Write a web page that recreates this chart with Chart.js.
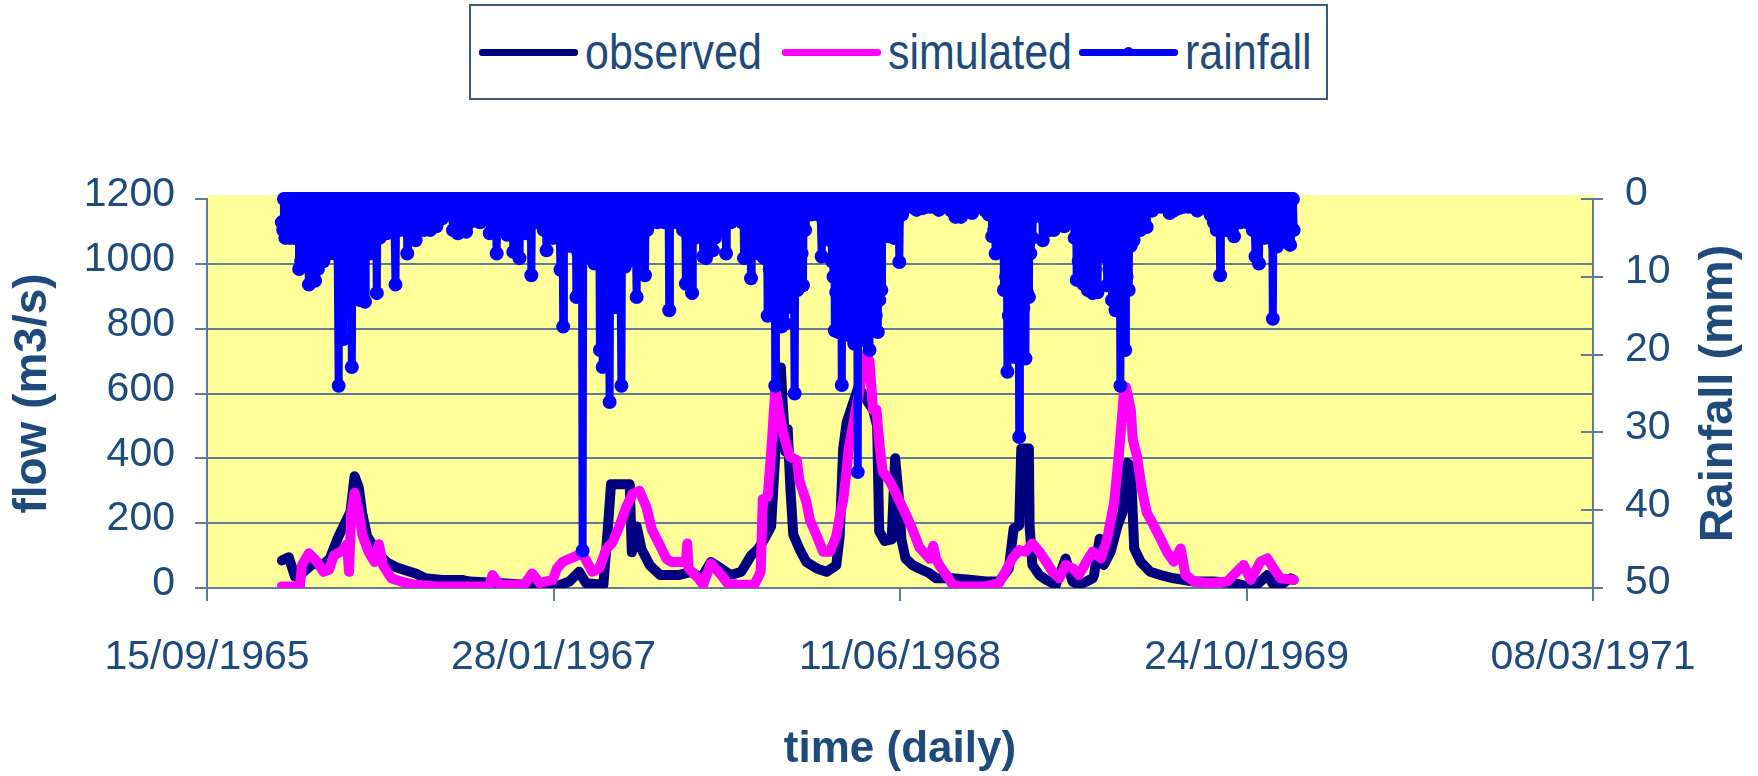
<!DOCTYPE html>
<html>
<head>
<meta charset="utf-8">
<title>Observed and simulated flow with daily rainfall</title>
<script src="https://cdn.jsdelivr.net/npm/chart.js@4.4.1/dist/chart.umd.min.js"></script>
<style>
  html, body { margin: 0; padding: 0; background: #fff; }
  #wrap { position: relative; width: 1758px; height: 776px; }
  #chart { position: absolute; left: 0; top: 0; }
  #legend {
    position: absolute; left: 469px; top: 4px; width: 855px; height: 92px;
    border: 2px solid #3c5a7a; background: #fff;
    font-family: "Liberation Sans Narrow", "Arial Narrow", sans-serif;
    font-size: 51px; color: #1f4a7c;
  }
  #legend .item { position: absolute; top: 0; height: 92px; display: flex; align-items: center; white-space: nowrap; }
  #legend .swatch { position: relative; width: 99px; height: 7px; border-radius: 3px; margin-right: 7px; }
  #legend .dot { position: absolute; left: 45px; top: -2px; width: 9px; height: 9px; border-radius: 50%; }
  #legend .tall { display: inline-block; transform: scaleY(1.18); transform-origin: 50% 55%; }
</style>
</head>
<body>
<div id="wrap">
  <canvas id="chart" width="1758" height="776"></canvas>
  <div id="legend"></div>
</div>
<script>
// ---- data ----
const xTickLabels = ['15/09/1965', '28/01/1967', '11/06/1968', '24/10/1969', '08/03/1971'];
const flowTicks = [0, 200, 400, 600, 800, 1000, 1200];
const rainTicks = [0, 10, 20, 30, 40, 50];

const recordStart = '1966-01-01';
const recordEnd = '1969-12-31';

const obsDates = [
  '1966-01-01','1966-01-11','1966-01-20','1966-01-27','1966-02-15','1966-02-28','1966-03-11','1966-03-24',
  '1966-04-10','1966-04-16','1966-04-22','1966-04-27','1966-05-04','1966-05-14','1966-05-23','1966-06-01',
  '1966-06-14','1966-06-28','1966-07-13','1966-07-27','1966-08-20','1966-09-18','1966-09-29','1966-11-16',
  '1967-01-03','1967-02-01','1967-02-20','1967-03-06','1967-03-16','1967-04-10','1967-04-17','1967-04-21',
  '1967-05-18','1967-05-21','1967-05-28','1967-06-04','1967-06-16','1967-07-01','1967-07-27','1967-08-15',
  '1967-08-29','1967-09-12','1967-09-27','1967-10-11','1967-10-26','1967-11-09','1967-11-19','1967-11-28',
  '1967-12-08','1967-12-15','1967-12-22','1967-12-25','1967-12-29','1968-01-01','1968-01-05','1968-01-09',
  '1968-01-18','1968-01-28','1968-02-12','1968-02-26','1968-03-11','1968-03-16','1968-03-21','1968-03-26',
  '1968-04-12','1968-05-03','1968-05-09','1968-05-12','1968-05-20','1968-05-30','1968-06-04','1968-06-10',
  '1968-06-13','1968-06-19','1968-06-29','1968-07-08','1968-07-23','1968-08-02','1968-08-26','1968-09-23',
  '1968-10-13','1968-11-01','1968-11-15','1968-11-22','1968-11-30','1968-12-03','1968-12-14','1968-12-15',
  '1968-12-19','1968-12-29','1969-01-08','1969-01-22','1969-02-05','1969-02-15','1969-02-24','1969-03-07',
  '1969-03-16','1969-03-18','1969-03-26','1969-04-01','1969-04-11','1969-04-21','1969-04-28','1969-05-05',
  '1969-05-10','1969-05-15','1969-05-24','1969-06-07','1969-06-22','1969-07-11','1969-08-09','1969-09-07',
  '1969-10-06','1969-10-26','1969-11-08','1969-11-23','1969-12-02','1969-12-12','1969-12-27','1969-12-31'
];
const obsFlow = [
  85, 95, 35, 40, 75, 70, 90, 160,
  235, 345, 310, 230, 160, 125, 100, 80,
  65, 55, 45, 30, 25, 25, 20, 15,
  8, 5, 20, 50, 15, 10, 200, 320,
  320, 110, 190, 120, 70, 40, 40, 50,
  30, 80, 60, 40, 50, 100, 120, 150,
  190, 450, 680, 560, 420, 490, 300, 165,
  120, 80, 60, 50, 70, 160, 430, 510,
  620, 550, 500, 175, 145, 150, 400, 264,
  150, 91, 71, 61, 46, 30, 30, 25,
  20, 20, 60, 183, 193, 430, 430, 190,
  71, 40, 25, 10, 91, 20, 10, 20,
  30, 40, 152, 71, 112, 193, 233, 386,
  376, 122, 81, 50, 40, 30, 20, 20,
  15, 5, 10, 40, 10, 10, 30, 25
];

const simDates = [
  '1966-01-01','1966-01-27','1966-01-30','1966-02-09','1966-02-21','1966-03-02','1966-03-10','1966-03-17',
  '1966-03-29','1966-04-05','1966-04-08','1966-04-11','1966-04-16','1966-04-22','1966-04-27','1966-05-06',
  '1966-05-15','1966-05-21','1966-05-27','1966-06-08','1966-06-22','1966-07-13','1966-08-11','1966-10-27',
  '1966-11-01','1966-11-11','1966-12-17','1966-12-28','1967-01-08','1967-01-27','1967-02-02','1967-02-10',
  '1967-02-20','1967-03-03','1967-03-11','1967-03-25','1967-04-04','1967-04-14','1967-04-23','1967-05-03',
  '1967-05-13','1967-05-22','1967-06-01','1967-06-11','1967-06-19','1967-07-01','1967-07-10','1967-07-18',
  '1967-08-07','1967-08-09','1967-08-11','1967-08-25','1967-09-01','1967-09-12','1967-09-27','1967-10-06',
  '1967-10-21','1967-11-14','1967-11-23','1967-11-26','1967-12-03','1967-12-08','1967-12-14','1967-12-17',
  '1967-12-20','1967-12-25','1968-01-04','1968-01-14','1968-01-18','1968-01-28','1968-02-02','1968-02-12',
  '1968-02-21','1968-03-02','1968-03-11','1968-03-16','1968-03-21','1968-03-26','1968-03-29','1968-04-23',
  '1968-04-28','1968-05-03','1968-05-08','1968-05-13','1968-05-17','1968-05-27','1968-06-01','1968-06-11',
  '1968-06-20','1968-06-30','1968-07-09','1968-07-24','1968-07-29','1968-08-02','1968-08-07','1968-08-17',
  '1968-08-26','1968-09-05','1968-10-13','1968-11-01','1968-11-10','1968-11-20','1968-11-30','1968-12-09',
  '1968-12-19','1968-12-29','1969-01-08','1969-01-17','1969-01-27','1969-02-05','1969-02-15','1969-02-24',
  '1969-03-07','1969-03-16','1969-03-28','1969-04-06','1969-04-16','1969-04-23','1969-04-30','1969-05-03',
  '1969-05-10','1969-05-13','1969-05-19','1969-05-26','1969-06-02','1969-06-12','1969-06-22','1969-07-01',
  '1969-07-11','1969-07-21','1969-07-28','1969-08-09','1969-09-02','1969-09-26','1969-10-15','1969-10-20',
  '1969-10-30','1969-11-13','1969-11-23','1969-12-02','1969-12-12','1969-12-31'
];
const simFlow = [
  5, 5, 70, 107, 80, 50, 56, 100,
  115, 135, 50, 230, 294, 233, 165, 112,
  80, 135, 70, 30, 20, 10, 5, 5,
  40, 10, 10, 45, 15, 25, 60, 80,
  90, 100, 105, 50, 60, 120, 140, 190,
  250, 290, 300, 250, 180, 130, 90, 80,
  80, 137, 60, 30, 10, 76, 40, 15,
  10, 10, 50, 274, 280, 416, 610, 580,
  540, 480, 405, 395, 330, 265, 210, 160,
  112, 112, 160, 220, 270, 365, 430, 720,
  700, 550, 550, 430, 360, 330, 310, 265,
  225, 175, 125, 90, 130, 90, 70, 40,
  10, 5, 5, 15, 50, 91, 117, 112,
  137, 112, 81, 50, 30, 71, 61, 40,
  81, 112, 91, 152, 264, 416, 600, 620,
  550, 457, 406, 305, 233, 193, 152, 112,
  81, 122, 40, 20, 15, 20, 61, 71,
  25, 81, 91, 61, 30, 25
];

// rainy days per year (month-day); every other day of the record shows 0 mm
const rainDays1966 = [
  '01-01','01-02','01-03','01-05','01-06','01-08','01-09','01-11','01-12','01-14',
  '01-15','01-17','01-18','01-20','01-22','01-24','01-26','01-29','01-31','02-02',
  '02-04','02-06','02-09','02-11','02-13','02-16','02-18','02-20','02-22','02-25',
  '02-27','03-02','03-05','03-07','03-09','03-12','03-14','03-16','03-18','03-21',
  '03-24','03-27','03-29','03-31','04-02','04-05','04-08','04-12','04-15','04-17',
  '04-19','04-21','04-24','04-27','04-29','05-01','05-04','05-06','05-08','05-12',
  '05-15','05-18','05-22','05-25','05-28','06-01','06-04','06-07','06-11','06-14',
  '06-17','06-20','06-25','06-28','07-01','07-04','07-07','07-10','07-13','07-18',
  '07-21','07-25','07-30','08-03','08-08','08-12','08-16','08-20','08-24','08-28',
  '09-01','09-05','09-09','09-12','09-15','09-18','09-21','09-24','09-29','10-02',
  '10-07','10-10','10-14','10-17','10-21','10-25','10-28','11-02','11-07','11-10',
  '11-14','11-18','11-22','11-26','11-29','12-01','12-04','12-07','12-10','12-13',
  '12-16','12-19','12-22','12-27','12-30'
];
const rainMm1966 = [
  3, 3, 4, 3, 5, 4, 3, 3, 5, 4,
  4, 3, 5, 4, 3, 5, 9, 8, 6, 6,
  7, 5, 11, 6, 5, 7, 10.5, 6, 9, 7,
  5, 8, 6, 5, 7, 6, 6.5, 6, 7, 7,
  24, 8, 7, 18, 6, 6, 7, 21.6, 6, 7,
  6, 6, 13, 7, 6, 13.2, 6, 5, 7, 4,
  5, 12.1, 5, 4, 3, 4.4, 3, 3, 3, 11,
  3, 4, 3, 4, 7, 3, 2, 3, 5.3, 3,
  2, 4, 3, 4, 3, 3.5, 2, 2.5, 2, 2,
  2, 4, 3, 4.4, 3, 3.5, 3, 4.2, 3, 2,
  2, 2, 3, 2, 2, 2, 4.4, 3, 7, 4,
  3, 4, 4.6, 3, 4, 6.8, 4, 4, 7.6, 4,
  3, 4.4, 4, 9.8, 3
];

const rainDays1967 = [
  '01-03','01-06','01-10','01-14','01-18','01-21','01-24','01-27','01-30','02-03',
  '02-07','02-11','02-13','02-16','02-20','02-23','02-25','02-28','03-02','03-05',
  '03-07','03-09','03-11','03-14','03-16','03-18','03-20','03-23','03-26','03-28',
  '03-31','04-02','04-05','04-07','04-09','04-12','04-14','04-16','04-19','04-21',
  '04-24','04-26','04-28','05-01','05-03','05-06','05-08','05-11','05-14','05-18',
  '05-21','05-24','05-28','06-01','06-05','06-09','06-12','06-16','06-19','06-23',
  '06-27','07-03','07-07','07-10','07-14','07-17','07-21','07-27','07-31','08-03',
  '08-07','08-11','08-16','08-20','08-24','08-28','09-01','09-05','09-09','09-12',
  '09-15','09-18','09-22','09-26','09-29','10-04','10-07','10-11','10-15','10-19',
  '10-23','10-27','10-30','11-03','11-06','11-09','11-12','11-14','11-16','11-19',
  '11-22','11-25','11-28','12-01','12-03','12-06','12-08','12-11','12-14','12-16',
  '12-18','12-21','12-23','12-25','12-28','12-30'
];
const rainMm1967 = [
  1.8, 3, 3, 4, 6.6, 4, 4.4, 5, 3, 5,
  9.1, 16.4, 6, 4, 6, 6, 5.5, 6, 12.6, 7,
  6, 6, 45.2, 7, 6, 7.4, 6, 6.6, 7, 8.3,
  8, 7, 19.4, 8, 21.6, 7, 11.7, 8, 26.1, 8,
  9.6, 7, 13.9, 7, 8, 24, 7, 8.7, 6, 7.9,
  5, 6, 12.6, 7, 5, 9.8, 4, 3.1, 3, 2.3,
  3, 2.5, 3, 3, 14.3, 3, 3, 3, 3, 4,
  10.9, 5, 12.1, 5, 3, 4, 7.4, 7.6, 5, 4,
  6.6, 5, 4, 3, 4, 7, 3, 3, 2, 2,
  1.4, 3, 7.6, 4, 5, 10.2, 5, 4, 5, 7,
  6, 5, 7.6, 7, 15, 9, 12, 10, 24, 12,
  9, 11, 16.4, 12, 16, 10
];

const rainDays1968 = [
  '01-01','01-03','01-06','01-08','01-11','01-13','01-15','01-17','01-19','01-21',
  '01-23','01-26','01-30','02-04','02-09','02-14','02-19','02-22','02-25','02-28',
  '03-02','03-05','03-07','03-09','03-11','03-14','03-16','03-19','03-22','03-24',
  '03-26','03-29','03-31','04-02','04-04','04-06','04-08','04-11','04-13','04-16',
  '04-18','04-21','04-24','04-26','04-28','04-30','05-02','05-05','05-07','05-10',
  '05-12','05-15','05-18','05-21','05-25','05-29','06-02','06-06','06-10','06-14',
  '06-20','06-27','07-05','07-13','07-19','07-25','07-31','08-06','08-12','08-18',
  '08-24','08-30','09-07','09-14','09-23','09-30','10-03','10-12','10-17','10-22',
  '10-25','10-27','11-01','11-04','11-06','11-08','11-11','11-13','11-15','11-18',
  '11-20','11-23','11-26','11-28','11-30','12-02','12-04','12-06','12-09','12-11',
  '12-14','12-16','12-19','12-21','12-24','12-28'
];
const rainMm1968 = [
  11.7, 10, 13.9, 9, 25, 10, 11.7, 8, 6, 7,
  11.1, 4, 1.4, 2, 1.4, 2, 7.4, 3, 3, 4,
  5.3, 8, 10, 16.9, 12, 17.1, 14, 23.9, 15, 14,
  16.9, 15, 14, 17.7, 15, 18.6, 16, 35.1, 15, 17.7,
  16, 18.2, 16, 15, 19.4, 15, 14, 16.9, 15, 17.1,
  13, 11.7, 4.4, 4, 4.8, 3, 5, 3, 8.1, 2,
  1, 1, 1.4, 1.2, 1, 1, 1, 1.4, 1, 1,
  1.5, 2.3, 2.3, 1.5, 1.8, 1, 1, 1.5, 2, 4.8,
  4, 7, 4, 5.3, 6, 11.7, 10, 22.2, 15, 19.4,
  16, 20.3, 18, 16, 30.6, 15, 16, 14, 20.5, 12,
  12.6, 7, 5, 2.3, 2, 1.4
];

const rainDays1969 = [
  '01-03','01-07','01-12','01-15','01-19','01-23','01-26','01-30','02-03','02-06',
  '02-10','02-13','02-15','02-18','02-21','02-24','02-27','03-02','03-05','03-09',
  '03-12','03-16','03-19','03-23','03-27','04-01','04-03','04-06','04-09','04-13',
  '04-15','04-18','04-21','04-23','04-25','04-28','04-30','05-02','05-04','05-07',
  '05-10','05-14','05-18','05-24','05-28','06-02','06-10','06-15','06-22','06-29',
  '07-05','07-11','07-18','07-25','08-01','08-07','08-14','08-21','08-28','09-02',
  '09-07','09-11','09-16','09-20','09-26','09-30','10-06','10-10','10-15','10-20',
  '10-25','10-30','11-02','11-06','11-11','11-15','11-19','11-23','11-27','12-01',
  '12-04','12-07','12-11','12-14','12-17','12-21','12-26','12-29','12-31'
];
const rainMm1969 = [
  5.3, 3, 4, 3, 4, 3, 3, 3, 3.5, 3,
  3, 3, 2, 5, 10.4, 8, 10.4, 10.9, 8, 11.7,
  8, 12.1, 9, 12, 7, 7.4, 7, 11.1, 9, 13,
  10, 14.3, 12, 14, 24, 12, 11, 19.4, 10, 11.7,
  6, 5.3, 4, 4, 3, 3.6, 1.5, 1, 1, 1,
  1.8, 1.5, 1.2, 1, 1, 1, 1.5, 1, 1.2, 2,
  3, 4, 9.8, 4, 4, 3, 4.8, 3, 3, 2,
  3, 1.4, 4, 7.4, 8.3, 4, 5, 4.8, 5, 15.4,
  6, 6.1, 5, 4, 5.3, 5, 5.9, 4, 4
];

const rainYears = [
  { year: 1966, days: rainDays1966, mm: rainMm1966 },
  { year: 1967, days: rainDays1967, mm: rainMm1967 },
  { year: 1968, days: rainDays1968, mm: rainMm1968 },
  { year: 1969, days: rainDays1969, mm: rainMm1969 }
];

// ---- helpers ----
const DAY = 86400000;
const isoDay = s => { const [y, m, d] = s.split('-').map(Number); return Date.UTC(y, m - 1, d); };
const dmyDay = s => { const [d, m, y] = s.split('/').map(Number); return Date.UTC(y, m - 1, d); };

const textColor = '#1f4a7c';
const axisColor = '#5f7b96';
const plotFill = '#ffff99';

// narrow face for the tick labels, plain face if it is missing
const narrowFace = (() => {
  const c = document.createElement('canvas').getContext('2d');
  c.font = '40px "Liberation Sans Narrow", monospace';
  const a = c.measureText('observed 1200').width;
  c.font = '40px monospace';
  return a !== c.measureText('observed 1200').width;
})();
const tickFont = narrowFace
  ? { family: '"Liberation Sans Narrow", "Arial Narrow", sans-serif', size: 49 }
  : { family: '"Liberation Sans", Arial, sans-serif', size: 41 };
const titleFamily = '"Liberation Sans", Arial, sans-serif';

const obsPoints = obsDates.map((d, i) => ({ x: isoDay(d), y: obsFlow[i] }));
const simPoints = simDates.map((d, i) => ({ x: isoDay(d), y: simFlow[i] }));

const rainByDay = new Map();
rainYears.forEach(r => r.days.forEach((md, i) => rainByDay.set(isoDay(r.year + '-' + md), r.mm[i])));
const rainPoints = [];
for (let t = isoDay(recordStart); t <= isoDay(recordEnd); t += DAY) {
  rainPoints.push({ x: t, y: rainByDay.get(t) || 0 });
}

const xTickValues = xTickLabels.map(dmyDay);

const plotBackground = {
  id: 'plotBackground',
  beforeDraw(chart) {
    const { ctx, chartArea: a } = chart;
    ctx.save();
    ctx.fillStyle = plotFill;
    ctx.fillRect(a.left, a.top - 4, a.right - a.left, a.bottom - a.top + 4);
    ctx.restore();
  }
};

// right axis: ticks cross the axis line, title reads bottom to top
const rightAxisExtras = {
  id: 'rightAxisExtras',
  afterDraw(chart) {
    const { ctx, chartArea } = chart;
    const s = chart.scales.y1;
    ctx.save();
    ctx.strokeStyle = axisColor;
    ctx.lineWidth = 2;
    s.ticks.forEach(t => {
      const y = Math.round(s.getPixelForValue(t.value));
      ctx.beginPath();
      ctx.moveTo(s.left - 12, y);
      ctx.lineTo(s.left, y);
      ctx.stroke();
    });
    ctx.translate(s.left + 126, (chartArea.top + chartArea.bottom) / 2);
    ctx.rotate(-Math.PI / 2);
    ctx.font = 'bold 47px ' + titleFamily;
    ctx.fillStyle = textColor;
    ctx.textAlign = 'center';
    ctx.textBaseline = 'middle';
    ctx.fillText('Rainfall (mm)', 0, 0);
    ctx.restore();
  }
};

const chart = new Chart(document.getElementById('chart'), {
  type: 'line',
  data: {
    datasets: [
      {
        label: 'observed', data: obsPoints, yAxisID: 'y', order: 3,
        borderColor: '#000080', backgroundColor: '#000080', borderWidth: 10, pointRadius: 0
      },
      {
        label: 'simulated', data: simPoints, yAxisID: 'y', order: 2,
        borderColor: '#ff00ff', backgroundColor: '#ff00ff', borderWidth: 10, pointRadius: 0
      },
      {
        label: 'rainfall', data: rainPoints, yAxisID: 'y1', order: 1, clip: 8,
        borderColor: '#0000ff', backgroundColor: '#0000ff', borderWidth: 8,
        pointRadius: 7, pointBorderWidth: 0, pointStyle: 'circle'
      }
    ]
  },
  options: {
    responsive: false,
    animation: false,
    devicePixelRatio: 1,
    layout: { padding: { top: 199, left: 0, right: 0, bottom: 0 } },
    elements: { line: { tension: 0, borderCapStyle: 'round', borderJoinStyle: 'round' } },
    plugins: { legend: { display: false }, tooltip: { enabled: false } },
    scales: {
      x: {
        type: 'linear',
        min: xTickValues[0],
        max: xTickValues[xTickValues.length - 1],
        afterBuildTicks: s => { s.ticks = xTickValues.map(v => ({ value: v })); },
        afterFit: s => { s.height = 188; },
        grid: { drawOnChartArea: false, tickLength: 13, color: axisColor, lineWidth: 2 },
        border: { color: axisColor, width: 2 },
        ticks: {
          autoSkip: false, maxRotation: 0, padding: 32, font: tickFont, color: textColor,
          callback: (v, i) => xTickLabels[i]
        },
        title: {
          display: true, text: 'time (daily)', color: textColor,
          font: { family: titleFamily, size: 44, weight: 'bold' }, padding: { top: 0, bottom: 0 }
        }
      },
      y: {
        position: 'left',
        min: flowTicks[0],
        max: flowTicks[flowTicks.length - 1],
        afterFit: s => { s.width = 207; },
        ticks: {
          stepSize: flowTicks[1] - flowTicks[0], padding: 20, labelOffset: -4,
          font: tickFont, color: textColor, callback: v => String(v)
        },
        grid: {
          lineWidth: 2, tickLength: 12, tickColor: axisColor,
          color: c => (c.tick && c.tick.value === flowTicks[flowTicks.length - 1]) ? 'rgba(0,0,0,0)' : axisColor
        },
        border: { color: axisColor, width: 2 },
        title: {
          display: true, text: 'flow (m3/s)', color: textColor,
          font: { family: titleFamily, size: 46, weight: 'bold' }, padding: { top: 6, bottom: 0 }
        }
      },
      y1: {
        position: 'right',
        reverse: true,
        min: rainTicks[0],
        max: rainTicks[rainTicks.length - 1],
        afterFit: s => { s.width = 165; },
        ticks: {
          stepSize: rainTicks[1] - rainTicks[0], padding: 22, labelOffset: -5,
          font: tickFont, color: textColor, callback: v => String(v)
        },
        grid: { drawOnChartArea: false, tickLength: 10, color: axisColor, lineWidth: 2 },
        border: { color: axisColor, width: 2 }
      }
    }
  },
  plugins: [plotBackground, rightAxisExtras]
});

// html legend built from the datasets
const legendSlots = [8, 311, 608];
const legendEl = document.getElementById('legend');
if (!narrowFace) {
  legendEl.style.fontFamily = '"Liberation Sans", Arial, sans-serif';
  legendEl.style.fontSize = '43px';
}
chart.data.datasets.forEach((ds, i) => {
  const item = document.createElement('div');
  item.className = 'item';
  item.style.left = legendSlots[i] + 'px';
  const sw = document.createElement('span');
  sw.className = 'swatch';
  sw.style.background = ds.borderColor;
  if (ds.pointRadius > 0) {
    const dot = document.createElement('span');
    dot.className = 'dot';
    dot.style.background = ds.borderColor;
    sw.appendChild(dot);
  }
  const label = document.createElement('span');
  label.className = narrowFace ? '' : 'tall';
  label.textContent = ds.label;
  item.appendChild(sw);
  item.appendChild(label);
  legendEl.appendChild(item);
});
</script>
</body>
</html>
